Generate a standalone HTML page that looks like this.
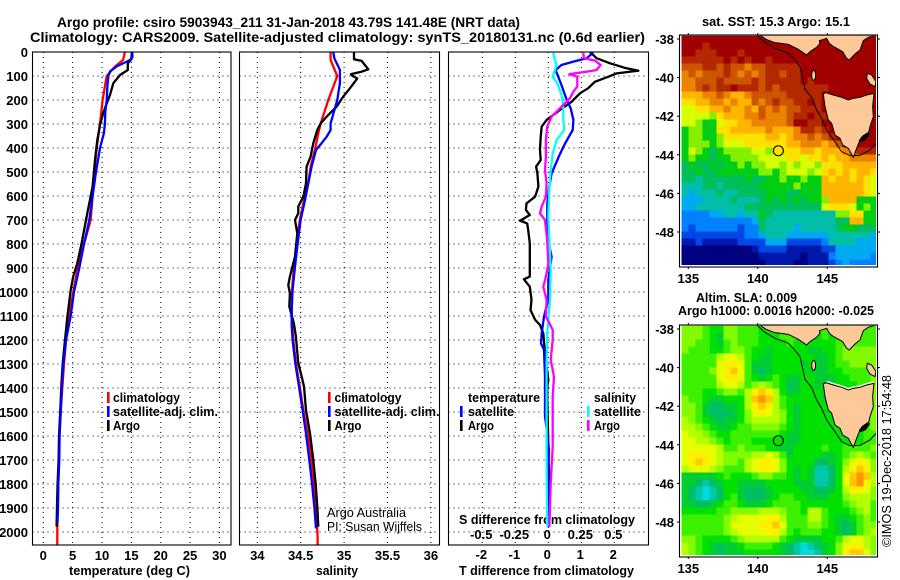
<!DOCTYPE html>
<html lang="en">
<head>
<meta charset="utf-8">
<title>Argo profile 5903943_211</title>
<style>
html,body{margin:0;padding:0;background:#fff;}
svg{display:block;font-family:"Liberation Sans",sans-serif;}
text{fill:#000;}
</style>
</head>
<body>
<svg id="chart" xmlns="http://www.w3.org/2000/svg" width="900" height="580" viewBox="0 0 900 580">
<rect width="900" height="580" fill="#fff"/>
<text x="57" y="27" font-size="14" font-weight="700" textLength="463" lengthAdjust="spacingAndGlyphs">Argo profile: csiro 5903943_211 31-Jan-2018 43.79S 141.48E (NRT data)</text>
<text x="30" y="42" font-size="14" font-weight="700" textLength="615" lengthAdjust="spacingAndGlyphs">Climatology: CARS2009. Satellite-adjusted climatology: synTS_20180131.nc (0.6d earlier)</text>
<text x="69" y="575" font-size="13" font-weight="700" textLength="121" lengthAdjust="spacingAndGlyphs">temperature (deg C)</text>
<text x="316" y="575" font-size="13" font-weight="700" textLength="42" lengthAdjust="spacingAndGlyphs">salinity</text>
<text x="459" y="575" font-size="13" font-weight="700" textLength="175" lengthAdjust="spacingAndGlyphs">T difference from climatology</text>
<text x="459" y="524" font-size="13" font-weight="700" textLength="176" lengthAdjust="spacingAndGlyphs">S difference from climatology</text>
<text x="327" y="517" font-size="13" fill="#222" textLength="79" lengthAdjust="spacingAndGlyphs">Argo Australia</text>
<text x="327" y="531" font-size="13" fill="#222" textLength="95" lengthAdjust="spacingAndGlyphs">PI: Susan Wijffels</text>
<text x="702" y="26" font-size="13" font-weight="700" textLength="148" lengthAdjust="spacingAndGlyphs">sat. SST: 15.3 Argo: 15.1</text>
<text x="696" y="302" font-size="13" font-weight="700" textLength="101" lengthAdjust="spacingAndGlyphs">Altim. SLA: 0.009</text>
<text x="678" y="315" font-size="13" font-weight="700" textLength="196" lengthAdjust="spacingAndGlyphs">Argo h1000: 0.0016 h2000: -0.025</text>
<text transform="translate(891,547) rotate(-90)" font-size="13" textLength="172" lengthAdjust="spacingAndGlyphs">©IMOS 19-Dec-2018 17:54:48</text>
<defs>
<clipPath id="clip-sst"><rect x="681.3" y="35.7" width="194.7" height="229.3"/></clipPath>
<clipPath id="clip-sla"><rect x="681.3" y="325.7" width="194.7" height="229.3"/></clipPath>
</defs>
<g id="layer"></g>
</svg>
<script>
const depthTicks = [0,100,200,300,400,500,600,700,800,900,1000,1100,1200,1300,1400,1500,1600,1700,1800,1900,2000];
const tempTicks = [0,5,10,15,20,25,30];
const salTicks = [34,34.5,35,35.5,36];
const tDiffTicks = [-2,-1,0,1,2];
const sDiffTicks = [-0.5,-0.25,0,0.25,0.5];
const lonTicks = [135,140,145];
const latTicks = [-38,-40,-42,-44,-46,-48];

const tempClimDepth = [0,33,61,100,200,300,400,500,600,700,800,900,1000,1100,1200,1300,1400,1500,1600,1700,1800,1900,2000,2054];
const tempClimValue = [13.9,13.6,12.2,10.8,10.1,9.66,9.1,8.7,8.4,8.07,6.93,5.86,5.1,4.43,3.87,3.53,3.24,2.96,2.73,2.65,2.56,2.45,2.39,2.39];
const tempSatDepth = [0,20,30,40,60,80,100,150,200,250,300,340,400,500,600,700,800,900,1000,1100,1200,1300,1400,1500,1600,1700,1800,1900,1960];
const tempSatValue = [15.16,15.2,15.0,14.2,12.5,11.4,11.07,10.9,10.8,10.56,10.5,10.3,9.66,8.98,8.4,7.84,6.93,6.13,5.23,4.67,3.87,3.41,3.13,2.96,2.78,2.73,2.56,2.5,2.4];
const tempArgoDepth = [0,30,47,75,96,130,179,214,255,304,367,450,561,630,700,797,880,936,992,1103,1200,1297,1394,1492,1603,1700,1797,1894,1978];
const tempArgoValue = [15.1,15.0,14.4,14.4,13.07,11.93,11.36,10.8,10.2,9.66,9.2,8.8,8.4,7.84,7.27,6.53,5.8,5.1,4.66,4.1,3.7,3.3,3.07,2.9,2.67,2.6,2.44,2.33,2.27];

const salClimDepth = [0,33,61,100,144,200,242,297,339,408,478,547,617,700,797,894,992,1103,1200,1297,1394,1492,1603,1700,1797,1894,2019,2054];
const salClimValue = [34.845,34.845,34.876,34.922,34.876,34.818,34.78,34.73,34.703,34.664,34.614,34.588,34.538,34.49,34.453,34.422,34.40,34.396,34.415,34.445,34.49,34.53,34.588,34.626,34.653,34.676,34.695,34.695];
const salSatDepth = [0,26,46,75,130,172,200,249,297,325,353,380,408,478,547,617,700,797,894,992,1075,1144,1200,1297,1394,1492,1589,1700,1797,1894,1985];
const salSatValue = [34.876,34.887,34.914,34.952,34.952,34.933,34.922,34.883,34.845,34.845,34.799,34.741,34.676,34.626,34.588,34.549,34.499,34.465,34.434,34.407,34.396,34.396,34.407,34.438,34.48,34.522,34.561,34.599,34.63,34.657,34.676];
const salArgoDepth = [0,30,37,54,72,82,92,100,110,151,186,228,262,297,325,380,436,478,547,603,644,672,700,756,853,936,971,1006,1061,1131,1186,1297,1353,1394,1492,1589,1700,1797,1894,1978];
const salArgoValue = [35.114,35.114,35.202,35.24,35.279,35.202,35.079,35.098,35.152,35.068,34.99,34.914,34.818,34.73,34.691,34.645,34.614,34.568,34.561,34.53,34.472,34.472,34.434,34.461,34.434,34.376,34.357,34.376,34.369,34.422,34.445,34.472,34.511,34.538,34.561,34.607,34.645,34.672,34.691,34.703];

const dTSatDepth = [3,26,40,54,75,103,138,193,235,283,325,381,429,464,506,561,631,700,769,853,950,1033,1102,1172,1214,1241,1352,1519,1589,1658,1769,1978];
const dTSatValue = [1.36,1.16,0.76,0.40,0.22,0.30,0.40,0.54,0.68,0.76,0.74,0.51,0.34,0.23,0.10,0.03,-0.03,-0.03,-0.03,0.10,0,0,-0.13,-0.2,-0.22,-0.13,-0.1,-0.1,-0.03,0.02,0,0];
const dTArgoDepth = [3,12,26,47,68,78,89,103,124,151,172,207,242,283,311,353,408,450,478,506,561,603,631,658,679,703,714,742,797,881,936,947,978,1033,1075,1116,1137,1172,1255,1366,1394,1450,1630,1700,1797,1922,1978];
const dTArgoValue = [1.26,1.36,1.46,1.87,2.37,2.73,2.07,1.82,1.41,1.21,0.96,0.71,0.35,-0.05,-0.2,-0.23,-0.25,-0.23,-0.37,-0.33,-0.3,-0.4,-0.66,-0.68,-0.56,-0.86,-0.64,-0.61,-0.56,-0.56,-0.56,-0.74,-0.56,-0.51,-0.54,-0.4,-0.25,-0.15,-0.1,0,-0.03,-0.03,0,0,0.05,0,0.03];
const dSSatDepth = [3,33,54,75,103,131,179,228,283,325,367,422,492,561,686,783,908,1033,1172,1311,1519,1727,1978];
const dSSatValue = [0.038,0.05,0.063,0.05,0.033,0.068,0.101,0.114,0.114,0.121,0.063,0.033,0.018,0.008,0,0.008,0.018,0.013,-0.008,-0.013,-0.013,-0.013,-0.008];
const dSArgoDepth = [3,26,36,54,75,82,92,103,144,165,193,228,269,311,367,436,492,547,603,644,672,700,786,881,936,978,1033,1102,1130,1158,1200,1283,1352,1436,1644,1797,1978];
const dSArgoValue = [0.265,0.27,0.354,0.396,0.366,0.29,0.159,0.22,0.22,0.19,0.164,0.101,0.025,-0.008,-0.018,-0.018,-0.025,-0.013,-0.018,-0.05,-0.063,-0.025,-0.008,0,-0.018,-0.038,-0.013,-0.018,0.008,0.033,0.033,0.018,0.043,0.033,0.033,0.018,0.008];

const sstLevels = [
[15,15,15,15,15,15,15,15,15,15,15,15,15,15,15,15,15,15,15,15,15,15,15,15,15,15,15,15],
[15,15,15,14,15,15,15,15,15,15,15,15,15,15,15,15,15,15,15,15,15,15,15,15,15,15,15,15],
[15,15,14,14,14,15,15,15,14,15,15,15,15,15,15,15,15,15,15,15,15,15,15,15,15,15,15,15],
[14,14,14,14,14,14,15,14,15,14,15,15,14,15,15,15,15,15,15,15,15,15,15,15,15,15,15,15],
[13,13,13,14,14,13,14,13,13,12,13,13,14,14,14,14,14,15,15,15,15,15,15,15,15,15,15,15],
[12,13,12,13,13,13,14,13,12,13,12,13,14,14,13,14,14,15,15,15,15,15,15,15,15,15,15,15],
[12,12,13,13,13,14,13,13,13,13,14,13,14,14,14,14,14,15,14,15,15,15,15,15,15,15,15,15],
[12,12,13,14,13,14,14,15,14,14,14,13,14,13,14,14,14,14,14,14,14,15,15,15,15,15,15,15],
[11,11,11,12,12,13,12,11,11,12,13,13,13,13,13,14,14,14,14,14,15,15,15,15,15,15,15,15],
[10,10,11,11,12,12,11,12,11,11,13,12,13,14,13,13,14,14,15,14,15,15,15,15,15,15,15,15],
[9,9,10,10,11,11,12,11,11,12,11,13,12,13,12,13,13,14,14,14,15,15,15,15,15,15,15,15],
[9,9,9,9,8,10,11,11,11,12,12,13,12,12,12,13,14,14,15,14,14,15,15,15,15,15,15,15],
[9,9,8,7,7,9,10,10,11,11,12,12,12,12,12,13,15,15,14,14,15,15,15,15,15,15,15,15],
[7,8,8,7,7,10,10,11,11,11,11,11,12,11,11,11,12,14,14,13,14,15,15,15,15,15,15,15],
[7,8,8,7,7,8,10,10,10,10,10,10,11,11,10,11,12,12,13,12,13,14,15,15,15,15,15,15],
[7,8,8,8,7,8,9,9,9,10,10,10,10,10,10,11,11,12,12,12,11,12,13,15,15,15,15,15],
[7,9,8,7,6,7,8,8,8,8,9,9,8,10,10,10,10,11,11,10,11,11,11,12,13,14,14,14],
[7,8,7,7,6,7,7,8,8,8,8,9,9,9,9,10,10,9,10,10,11,10,11,11,12,12,12,12],
[6,7,6,6,7,6,7,7,8,7,8,8,9,9,8,9,8,9,9,8,10,10,10,11,11,11,11,11],
[6,6,7,6,6,7,7,7,7,7,7,8,8,7,8,9,9,9,8,9,10,11,10,11,10,11,11,10],
[6,6,5,6,6,6,6,6,6,7,6,6,7,7,8,7,7,8,7,7,11,10,11,11,10,11,10,9],
[5,5,5,6,6,5,6,6,6,6,6,7,7,7,7,7,8,7,7,7,11,11,11,11,11,11,10,9],
[5,4,5,5,5,6,5,5,6,6,6,6,7,7,7,6,6,7,7,7,11,11,11,11,11,11,10,9],
[4,4,4,5,5,5,5,6,5,5,5,6,7,6,7,6,7,6,7,7,8,11,11,11,11,7,7,7],
[4,4,5,5,5,5,5,5,5,6,6,6,6,6,6,6,6,6,6,6,9,10,10,10,9,7,8,7],
[3,3,3,3,4,4,5,5,4,5,5,7,6,5,5,5,5,5,5,5,5,5,8,8,10,10,7,7],
[3,3,3,3,3,3,3,3,3,3,4,6,5,5,5,5,5,5,5,5,5,5,6,6,11,11,7,7],
[3,2,3,3,3,3,3,3,2,3,3,6,5,5,5,5,4,5,5,5,5,5,6,7,7,6,6,6],
[2,2,2,2,2,2,2,2,2,3,3,4,5,5,5,4,4,4,4,4,4,5,5,5,5,5,5,4],
[1,1,2,1,1,1,1,1,2,2,2,2,4,4,4,2,2,2,2,2,3,5,5,5,5,4,4,4],
[0,0,0,0,0,0,0,0,0,0,1,2,2,2,2,1,1,1,1,1,2,2,4,4,4,4,4,4],
[0,0,0,0,0,0,0,0,0,0,0,1,1,1,1,1,1,0,1,1,1,3,4,4,4,4,4,3],
[0,0,0,0,0,0,0,0,0,0,0,0,1,1,1,1,0,0,1,1,1,2,3,4,3,3,3,3]
];
const slaLevels = [
[6,6,6,5,4,4,6,6,5,5,5,4,4,5,5,5,5,5,5,5,5,5,5,5,5,5,5,5],
[6,6,6,5,4,3,6,6,5,5,5,4,4,4,5,5,5,4,4,4,5,4,4,5,5,5,5,5],
[6,6,5,5,4,3,5,6,5,5,5,4,4,4,4,5,4,4,4,4,4,4,5,5,5,5,5,5],
[6,5,5,5,4,4,5,6,6,5,4,4,3,4,4,4,4,4,3,3,4,4,5,6,6,6,6,6],
[5,5,5,5,5,7,8,8,7,5,4,3,3,4,4,4,4,4,4,3,3,4,5,6,6,6,6,6],
[5,5,5,5,5,8,9,9,8,5,3,3,3,4,4,4,4,3,4,3,3,4,5,5,6,6,6,6],
[5,5,5,5,6,8,9,10,8,5,3,2,3,4,4,4,4,4,3,3,3,4,4,5,5,5,5,6],
[5,5,5,5,5,8,9,9,8,5,4,3,4,5,4,3,3,4,4,3,3,3,4,4,5,5,5,6],
[5,5,5,5,5,7,8,8,7,5,6,7,6,5,4,2,3,4,4,3,3,3,4,4,4,5,5,6],
[5,5,5,4,4,5,6,6,5,7,9,10,9,7,4,3,3,4,4,4,3,3,4,4,4,5,5,6],
[6,5,5,4,3,3,4,4,4,7,10,11,10,7,5,4,4,4,4,4,3,3,4,4,4,5,5,6],
[6,6,5,3,2,2,3,3,4,7,9,10,9,7,5,4,3,4,4,4,4,3,4,4,4,5,5,6],
[6,6,5,3,2,2,2,3,4,6,8,9,8,7,6,4,3,4,4,4,4,4,4,4,4,5,5,6],
[7,6,5,4,3,2,3,3,4,6,7,7,7,7,6,4,3,4,4,4,4,4,4,4,4,4,5,6],
[7,7,6,5,4,3,3,4,5,5,6,6,6,6,5,4,3,4,4,4,4,4,4,4,4,4,5,6],
[8,7,7,6,5,4,4,5,5,5,5,5,5,5,4,3,3,4,4,4,4,4,4,4,4,4,5,5],
[8,8,7,7,6,5,4,5,5,5,4,4,4,4,4,3,3,4,4,4,4,4,4,4,4,4,5,5],
[8,8,8,8,8,7,5,5,6,5,5,5,4,4,3,3,4,4,4,4,5,4,4,5,5,5,5,6],
[8,9,9,9,8,7,6,6,6,6,7,7,8,7,5,3,4,4,4,4,3,3,4,5,6,7,6,5],
[8,9,10,9,8,7,6,6,5,7,8,9,9,8,6,4,4,4,4,2,2,3,4,6,8,9,8,6],
[7,8,8,8,7,6,5,5,5,7,8,9,9,8,6,4,3,4,3,1,1,2,4,7,9,10,9,6],
[3,3,3,3,3,4,5,4,4,4,5,6,6,5,5,4,3,4,3,1,1,2,4,8,10,11,10,7],
[3,3,2,1,2,3,4,4,3,3,3,3,4,4,4,4,3,3,3,1,1,2,4,8,10,11,9,7],
[3,2,1,0,1,2,4,4,3,2,2,2,3,4,4,4,4,3,3,2,2,3,4,7,9,9,8,6],
[3,2,1,0,1,2,4,5,3,2,2,2,3,4,5,5,4,4,3,3,3,4,4,6,7,7,7,6],
[3,3,2,2,3,4,5,5,4,3,3,3,4,5,5,5,5,4,4,4,4,4,4,5,6,7,7,5],
[4,4,4,4,4,5,5,6,6,6,6,7,7,7,6,5,5,4,7,7,5,4,4,4,5,6,7,5],
[5,5,5,5,5,5,6,7,8,8,8,8,9,9,7,5,5,5,7,7,5,4,3,3,4,5,6,5],
[5,5,5,5,5,5,6,8,8,8,8,9,9,10,8,5,5,5,6,6,5,4,3,2,3,5,6,6],
[5,5,5,5,5,5,6,7,8,8,8,8,9,9,7,5,4,5,5,5,4,4,3,2,3,5,6,7],
[6,6,5,4,4,4,4,5,6,7,7,7,7,7,5,4,3,3,3,3,4,4,5,7,8,8,7,6],
[7,6,5,4,3,2,3,3,4,5,5,5,5,4,3,2,1,0,1,2,3,4,6,8,9,9,7,6],
[7,6,5,4,3,2,3,3,3,4,4,4,4,4,3,2,1,0,0,1,3,4,6,9,10,10,8,6]
];
const argoLon = [141.48];
const argoLat = [-43.79];

const sstColors = ['#000080','#0018aa','#0048e6','#0082ff','#00aaf0','#00bea8','#00be5a','#00cd14','#82f000','#d7ff00','#ffe100','#ffb400','#eb8200','#cd5500','#b42800','#a00000'];
const slaColors = ['#00dcdc','#00c8a8','#00be64','#00cd32','#00e100','#3cf000','#82fa00','#b4ff00','#e6ff00','#fff000','#ffc800','#ff9600'];

const svgNS = 'http://www.w3.org/2000/svg';
const layer = document.getElementById('layer');
function mk(tag, parent) {
  const el = document.createElementNS(svgNS, tag);
  (parent || layer).appendChild(el);
  return el;
}
function setA(el, map) {
  for (const k in map) el.setAttribute(k, map[k]);
  return el;
}
function txt(x, y, s, anchor, size, parent) {
  const el = mk('text', parent);
  setA(el, {x: x, y: y, 'text-anchor': anchor, 'font-size': size, 'font-weight': 700});
  el.textContent = s;
  return el;
}
const yDepth = d => 52 + d * 0.24;
const xTemp = t => 43.3 + 5.87 * t;
const xSal = s => 257.3 + 86.8 * (s - 34);
const xDT = v => 548.3 + 33 * v;
const xDS = v => 548.3 + 132 * v;
const xLon = l => 688.3 + 13.9 * (l - 135);
const yLatSst = l => 39 + 19.3 * (-38 - l);
const yLatSla = l => 329 + 19.3 * (-38 - l);

function gridH(left, right, name) {
  depthTicks.forEach(d => {
    const l = mk('line');
    
    
    setA(l, {x1: left, x2: right, y1: yDepth(d), y2: yDepth(d), stroke: '#000', 'stroke-width': 1, 'stroke-dasharray': '1 4'});
  });
}
function gridV(ticks, xf, name) {
  ticks.forEach(t => {
    const l = mk('line');
    
    
    setA(l, {x1: xf(t), x2: xf(t), y1: 52, y2: 545, stroke: '#000', 'stroke-width': 1, 'stroke-dasharray': '1 4'});
  });
}
function curve(depths, vals, xf, color, name, w) {
  const p = mk('polyline');
  
  
  setA(p, {points: depths.map((d, i) => xf(vals[i]).toFixed(1) + ',' + yDepth(d).toFixed(1)).join(' '), fill: 'none', stroke: color, 'stroke-width': w || 2.3, 'stroke-linejoin': 'round'});
}
function frame(x, y, w, h, name) {
  const r = mk('rect');
  
  
  setA(r, {x: x, y: y, width: w, height: h, fill: 'none', stroke: '#000', 'stroke-width': 1.1});
}
function legendMark(x, y, color, name) {
  const r = mk('rect');
  
  
  setA(r, {x: x, y: y - 10, width: 2.6, height: 11, fill: color});
}
function legendText(x, y, s, len, name) {
  const t = txt(x, y, s, 'start', 13);
  
  
  setA(t, {textLength: len, lengthAdjust: 'spacingAndGlyphs'});
}

/* temperature panel */
gridH(32.5, 231, 'temperature');
gridV(tempTicks, xTemp, 'temperature');
curve(tempClimDepth, tempClimValue, xTemp, '#ff0000', 'temperature-climatology-line');
curve(tempArgoDepth, tempArgoValue, xTemp, '#000000', 'temperature-argo-line');
curve(tempSatDepth, tempSatValue, xTemp, '#0000ff', 'temperature-satellite-line');
frame(32.5, 52, 198.5, 493, 'temperature-panel-frame');
depthTicks.forEach(d => {
  const t = txt(28, yDepth(d) + 5, String(d), 'end', 13);
  
  
});
tempTicks.forEach(v => {
  const t = txt(xTemp(v), 560, String(v), 'middle', 13);
  
  
});
legendMark(107, 402, '#ff0000', 'legend-mark-climatology');
legendText(113, 402, 'climatology', 67, 'legend-label-climatology');
legendMark(107, 416, '#0000ff', 'legend-mark-satellite');
legendText(113, 416, 'satellite-adj. clim.', 105, 'legend-label-satellite');
legendMark(107, 430, '#000000', 'legend-mark-argo');
legendText(113, 430, 'Argo', 27, 'legend-label-argo');

/* salinity panel */
gridH(239.5, 439.5, 'salinity');
gridV(salTicks, xSal, 'salinity');
curve(salClimDepth, salClimValue, xSal, '#ff0000', 'salinity-climatology-line');
curve(salArgoDepth, salArgoValue, xSal, '#000000', 'salinity-argo-line');
curve(salSatDepth, salSatValue, xSal, '#0000ff', 'salinity-satellite-line');
frame(239.5, 52, 200, 493, 'salinity-panel-frame');
salTicks.forEach(v => {
  const t = txt(xSal(v), 560, String(v), 'middle', 13);
  
  
});
legendMark(328, 402, '#ff0000', 'legend-mark-climatology');
legendText(334.5, 402, 'climatology', 67, 'legend-label-climatology');
legendMark(328, 416, '#0000ff', 'legend-mark-satellite');
legendText(334.5, 416, 'satellite-adj. clim.', 105, 'legend-label-satellite');
legendMark(328, 430, '#000000', 'legend-mark-argo');
legendText(334.5, 430, 'Argo', 27, 'legend-label-argo');

/* difference panel */
gridH(448.5, 648.5, 'difference');
gridV(tDiffTicks, xDT, 'difference');
curve(dTArgoDepth, dTArgoValue, xDT, '#000000', 'difference-t-argo-line');
curve(dTSatDepth, dTSatValue, xDT, '#0000ff', 'difference-t-satellite-line');
curve(dSSatDepth, dSSatValue, xDS, '#00ffff', 'difference-s-satellite-line');
curve(dSArgoDepth, dSArgoValue, xDS, '#ff00ff', 'difference-s-argo-line');
frame(448.5, 52, 200, 493, 'difference-panel-frame');
tDiffTicks.forEach(v => {
  const t = txt(xDT(v) - 1, 559, String(v), 'middle', 13);
  
  
});
sDiffTicks.forEach(v => {
  const t = txt(xDS(v) - 1, 539, String(v), 'middle', 13);
  
  
});
legendText(468, 402, 'temperature', 72, 'legend-title-temperature');
legendMark(460, 416, '#0000ff', 'legend-mark-t-satellite');
legendText(468, 416, 'satellite', 46, 'legend-label-t-satellite');
legendMark(460, 430, '#000000', 'legend-mark-t-argo');
legendText(468, 430, 'Argo', 26, 'legend-label-t-argo');
legendText(594, 402, 'salinity', 42, 'legend-title-salinity');
legendMark(587, 416, '#00ffff', 'legend-mark-s-satellite');
legendText(594, 416, 'satellite', 47, 'legend-label-s-satellite');
legendMark(587, 430, '#ff00ff', 'legend-mark-s-argo');
legendText(594, 430, 'Argo', 26, 'legend-label-s-argo');

/* map coastline, in a 3x local coordinate frame */
const mainlandOutline = '300,75 318,88 345,98 385,103 415,118 440,135 450,125 470,112 480,100 478,92 500,85 508,100 518,108 530,115 548,125 560,145 568,150 585,132 600,120 610,92 625,82 648,75';
const tasmaniaOutline = '490,252 497,248 520,255 545,262 565,270 580,265 600,262 620,255 642,250 638,290 640,320 630,350 625,372 610,385 598,395 590,415 580,442 565,415 548,405 540,385 525,375 515,340 505,330 495,290';
const flindersOutline = '622,190 635,195 648,215 645,230 630,222 620,205';
const isobathLine = '290,75 315,97 345,115 385,130 403,148 420,170 428,205 435,238 455,262 470,300 485,325 500,360 525,395 545,425 570,437 600,436 630,420 648,400';
const eastTasReef = '596,392 606,378 624,366 630,372 618,390 604,396';
const northTasShore = '500,244 520,251 545,258 565,266 580,261 600,258 620,251 642,246';

function coast(oy, clipId, prefix, withShore) {
  const g = mk('g');
  
  
  g.setAttribute('clip-path', 'url(#' + clipId + ')');
  const inner = mk('g', g);
  inner.setAttribute('transform', 'translate(660,' + oy + ') scale(0.3333)');
  const iso = mk('polyline', inner);
  
  
  setA(iso, {points: isobathLine, fill: 'none', stroke: '#000', 'stroke-width': 3});
  [mainlandOutline, tasmaniaOutline, flindersOutline].forEach(pts => {
    const p = mk('polygon', inner);
    
    
    setA(p, {points: pts, fill: '#fdc998', stroke: '#000', 'stroke-width': 3});
  });
  const k = mk('ellipse', inner);
  
  
  setA(k, {cx: 461, cy: 196, rx: 6, ry: 15, fill: '#fdc998', stroke: '#000', 'stroke-width': 3});
  const r = mk('polygon', inner);
  
  
  setA(r, {points: eastTasReef, fill: '#000'});
  if (withShore) {
    const s = mk('polyline', inner);
    
    
    setA(s, {points: northTasShore, fill: 'none', stroke: '#fff', 'stroke-width': 4});
  }
}

function heat(levels, colors, top, clipId, prefix) {
  const g = mk('g');
  
  
  g.setAttribute('clip-path', 'url(#' + clipId + ')');
  levels.forEach((row, j) => {
    row.forEach((v, i) => {
      const c = mk('rect', g);
      
      
      setA(c, {x: 681.33 + i * 7, y: top + j * 7, width: 7.05, height: 7.05, fill: colors[v], 'shape-rendering': 'crispEdges'});
    });
  });
}
function mapFurniture(yTop, yBottom, yLat, labelY, prefix) {
  frame(679.5, yTop, 198, yBottom - yTop, prefix + '-map-frame');
  lonTicks.forEach(v => {
    const t = txt(xLon(v), labelY, String(v), 'middle', 13);
    
    
    const a = mk('line');
    
    
    setA(a, {x1: xLon(v), x2: xLon(v), y1: yTop - 2, y2: yTop, stroke: '#000'});
    const b = mk('line');
    
    
    setA(b, {x1: xLon(v), x2: xLon(v), y1: yBottom, y2: yBottom + 2, stroke: '#000'});
  });
  latTicks.forEach(v => {
    const t = txt(674, yLat(v) + 5, String(v), 'end', 13);
    
    
    const a = mk('line');
    
    
    setA(a, {x1: 677, x2: 679.5, y1: yLat(v), y2: yLat(v), stroke: '#000'});
    const b = mk('line');
    
    
    setA(b, {x1: 877.5, x2: 880, y1: yLat(v), y2: yLat(v), stroke: '#000'});
  });
  const c = mk('circle');
  
  
  setA(c, {cx: xLon(argoLon[0]), cy: yLat(argoLat[0]), r: 5, fill: 'none', stroke: '#000', 'stroke-width': 1.1});
}

heat(sstLevels, sstColors, 35.67, 'clip-sst', 'sst');
coast(10, 'clip-sst', 'sst', false);
mapFurniture(35, 267, yLatSst, 283, 'sst');

heat(slaLevels, slaColors, 325.67, 'clip-sla', 'sla');
coast(300, 'clip-sla', 'sla', true);
mapFurniture(325, 557, yLatSla, 573, 'sla');
</script>
</body>
</html>
